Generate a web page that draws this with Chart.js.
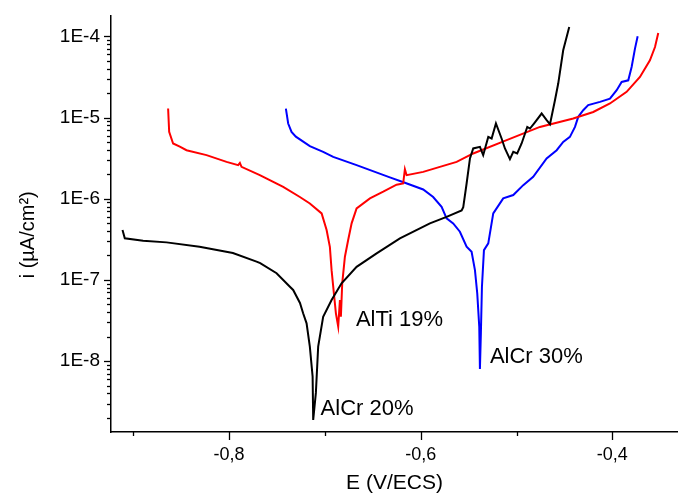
<!DOCTYPE html>
<html>
<head>
<meta charset="utf-8">
<script src="https://cdn.jsdelivr.net/npm/chart.js@4"></script>
<style>
html,body{margin:0;padding:0;background:#fff;}
#wrap{width:678px;height:494px;}
</style>
</head>
<body>
<div id="wrap"><canvas id="c" width="678" height="494"></canvas></div>
<script>
// AlCr 20% (black)
const blackE = [-0.9112,-0.9088,-0.8897,-0.8652,-0.8308,-0.7960,-0.7713,-0.7675,-0.7504,-0.7365,-0.7331,-0.7260,-0.7227,-0.7191,-0.7157,-0.7128,-0.7122,-0.7094,-0.7070,-0.7018,-0.6930,-0.6826,-0.6669,-0.6460,-0.6217,-0.5904,-0.5730,-0.5573,-0.5556,-0.5521,-0.5486,-0.5452,-0.5382,-0.5348,-0.5295,-0.5260,-0.5215,-0.5156,-0.5121,-0.5069,-0.5034,-0.4993,-0.4947,-0.4888,-0.4860,-0.4818,-0.4738,-0.4686,-0.4651,-0.4599,-0.4565,-0.4513,-0.4450];
const blackI = [4.11e-7,3.25e-7,3.03e-7,2.90e-7,2.56e-7,2.14e-7,1.68e-7,1.61e-7,1.21e-7,8.24e-8,7.52e-8,5.20e-8,3.88e-8,2.92e-8,1.51e-8,6.44e-9,1.89e-9,4.06e-9,1.51e-8,3.52e-8,5.66e-8,9.08e-8,1.45e-7,2.12e-7,3.25e-7,4.97e-7,5.98e-7,7.18e-7,7.88e-7,1.54e-6,3.13e-6,4.16e-6,4.35e-6,3.44e-6,5.77e-6,5.52e-6,8.44e-6,5.52e-6,4.16e-6,3.07e-6,3.78e-6,3.61e-6,4.79e-6,7.66e-6,7.32e-6,8.44e-6,1.12e-5,9.27e-6,8.28e-6,1.63e-5,2.62e-5,6.73e-5,1.30e-4];

// AlTi 19% (red)
const redE = [-0.8636,-0.8625,-0.8584,-0.8514,-0.8444,-0.8235,-0.8026,-0.7905,-0.7887,-0.7870,-0.7679,-0.7435,-0.7261,-0.7157,-0.7034,-0.6982,-0.6948,-0.6930,-0.6906,-0.6885,-0.6861,-0.6843,-0.6833,-0.6819,-0.6791,-0.6757,-0.6721,-0.6669,-0.6530,-0.6391,-0.6252,-0.6183,-0.6165,-0.6147,-0.5974,-0.5800,-0.5625,-0.5452,-0.5103,-0.4756,-0.4408,-0.4199,-0.4025,-0.3851,-0.3712,-0.3608,-0.3555,-0.3521];
const redI = [1.29e-5,6.65e-6,4.79e-6,4.37e-6,3.96e-6,3.44e-6,2.84e-6,2.59e-6,2.76e-6,2.47e-6,1.95e-6,1.40e-6,1.05e-6,8.74e-7,6.59e-7,4.11e-7,2.56e-7,1.32e-7,6.84e-8,3.88e-8,2.66e-8,5.66e-8,3.52e-8,9.08e-8,1.93e-7,3.10e-7,4.97e-7,7.60e-7,1.01e-6,1.22e-6,1.49e-6,1.54e-6,2.31e-6,1.95e-6,2.14e-6,2.47e-6,2.84e-6,3.61e-6,5.26e-6,7.66e-6,9.73e-6,1.17e-5,1.49e-5,2.07e-5,3.16e-5,5.07e-5,7.38e-5,1.10e-4];

// AlCr 30% (blue)
const blueE = [-0.7407,-0.7383,-0.7348,-0.7303,-0.7157,-0.7018,-0.6913,-0.6669,-0.6322,-0.6165,-0.5974,-0.5870,-0.5782,-0.5730,-0.5661,-0.5591,-0.5521,-0.5469,-0.5434,-0.5410,-0.5389,-0.5382,-0.5372,-0.5361,-0.5340,-0.5295,-0.5243,-0.5139,-0.5034,-0.4930,-0.4826,-0.4686,-0.4581,-0.4513,-0.4443,-0.4390,-0.4356,-0.4304,-0.4252,-0.4129,-0.4025,-0.3955,-0.3903,-0.3834,-0.3799,-0.3764,-0.3736];
const blueI = [1.29e-5,8.44e-6,6.65e-6,5.81e-6,4.44e-6,3.78e-6,3.27e-6,2.59e-6,1.83e-6,1.57e-6,1.30e-6,1.05e-6,7.94e-7,5.72e-7,4.97e-7,3.92e-7,2.56e-7,2.22e-7,1.32e-7,6.84e-8,2.66e-8,8.02e-9,2.20e-8,8.24e-8,2.33e-7,2.82e-7,6.59e-7,1.01e-6,1.11e-6,1.47e-6,1.86e-6,3.13e-6,3.96e-6,5.01e-6,5.77e-6,7.66e-6,1.02e-5,1.23e-5,1.42e-5,1.56e-5,1.71e-5,2.17e-5,2.74e-5,2.87e-5,4.19e-5,7.06e-5,1.00e-4];

// Axis ticks
const xTicks = [-0.9,-0.8,-0.7,-0.6,-0.5,-0.4];
const xLabelled = [-0.8,-0.6,-0.4];
const yTicks = [1e-8,1e-7,1e-6,1e-5,1e-4];

// Curve labels (anchored in data coordinates)
const labelText = ['AlCr 20%','AlTi 19%','AlCr 30%'];
const labelE = [-0.7045,-0.6676,-0.5278];
const labelI = [2.58e-9,3.26e-8,1.13e-8];

const zip = (E,I) => E.map((e,k)=>({x:e,y:I[k]}));
const FONT = '"Liberation Sans", Arial, Helvetica, sans-serif';
Chart.defaults.font.family = FONT;
Chart.defaults.color = '#000';

const tickPlugin = {
  id:'extras',
  afterDraw(chart){
    const ctx = chart.ctx, xs = chart.scales.x, ys = chart.scales.y, a = chart.chartArea;
    ctx.save();
    ctx.strokeStyle = '#000'; ctx.lineWidth = 1.3;
    xTicks.forEach(v=>{
      const px = Math.round(xs.getPixelForValue(v))+0.5;
      const len = xLabelled.some(t=>Math.abs(t-v)<1e-9) ? 8 : 4;
      ctx.beginPath(); ctx.moveTo(px,a.bottom); ctx.lineTo(px,a.bottom+len); ctx.stroke();
    });
    for(let d=-9; d<=-4; d++){
      for(let m=1; m<=9; m++){
        const v = m*Math.pow(10,d);
        if(v < ys.min || v > ys.max) continue;
        const py = Math.round(ys.getPixelForValue(v))+0.5;
        const len = m===1 ? 7 : 4;
        ctx.beginPath(); ctx.moveTo(a.left-len,py); ctx.lineTo(a.left,py); ctx.stroke();
      }
    }
    ctx.fillStyle = '#000';
    ctx.font = '22px ' + FONT;
    ctx.textAlign = 'left'; ctx.textBaseline = 'middle';
    labelText.forEach((t,k)=>{
      ctx.fillText(t, xs.getPixelForValue(labelE[k]), ys.getPixelForValue(labelI[k]));
    });
    ctx.restore();
  }
};

const ds = (E,I,col)=>({data:zip(E,I), borderColor:col, backgroundColor:col, borderWidth:2, pointRadius:0, showLine:true, tension:0, fill:false});

new Chart(document.getElementById('c'), {
  type:'scatter',
  data:{datasets:[ds(blackE,blackI,'#000000'), ds(redE,redI,'#ff0000'), ds(blueE,blueI,'#0000ff')]},
  options:{
    responsive:false, animation:false, devicePixelRatio:1,
    layout:{padding:{top:15,right:0,bottom:0,left:0}},
    plugins:{legend:{display:false}, tooltip:{enabled:false}},
    scales:{
      x:{
        type:'linear', min:-0.9232, max:-0.3315,
        afterBuildTicks:s=>{ s.ticks = xTicks.map(v=>({value:v})); },
        afterFit:s=>{ s.height = 62; },
        ticks:{ padding:4, font:{size:18}, color:'#000', maxRotation:0, autoSkip:false,
          callback:v=> xLabelled.some(t=>Math.abs(t-v)<1e-9) ? v.toFixed(1).replace('.',',') : '' },
        grid:{ display:true, drawOnChartArea:false, drawTicks:true, tickLength:8, color:'rgba(0,0,0,0)' },
        border:{ display:true, color:'#000', width:1.5 },
        title:{ display:true, text:'E (V/ECS)', font:{size:21}, color:'#000', padding:{top:0,bottom:-2} }
      },
      y:{
        type:'logarithmic', min:1.34e-9, max:1.81e-4,
        afterBuildTicks:s=>{ s.ticks = yTicks.map(v=>({value:v})); },
        afterFit:s=>{ s.width = 111; },
        ticks:{ padding:4, font:{size:19}, color:'#000', autoSkip:false,
          callback:v=> '1E' + Math.round(Math.log10(v)) },
        grid:{ display:true, drawOnChartArea:false, drawTicks:true, tickLength:7, color:'rgba(0,0,0,0)' },
        border:{ display:true, color:'#000', width:1.5 },
        title:{ display:true, text:'i (µA/cm²)\u00a0\u00a0\u00a0\u00a0', font:{size:20}, color:'#000', padding:{top:16,bottom:0} }
      }
    }
  },
  plugins:[tickPlugin]
});
</script>
</body>
</html>
